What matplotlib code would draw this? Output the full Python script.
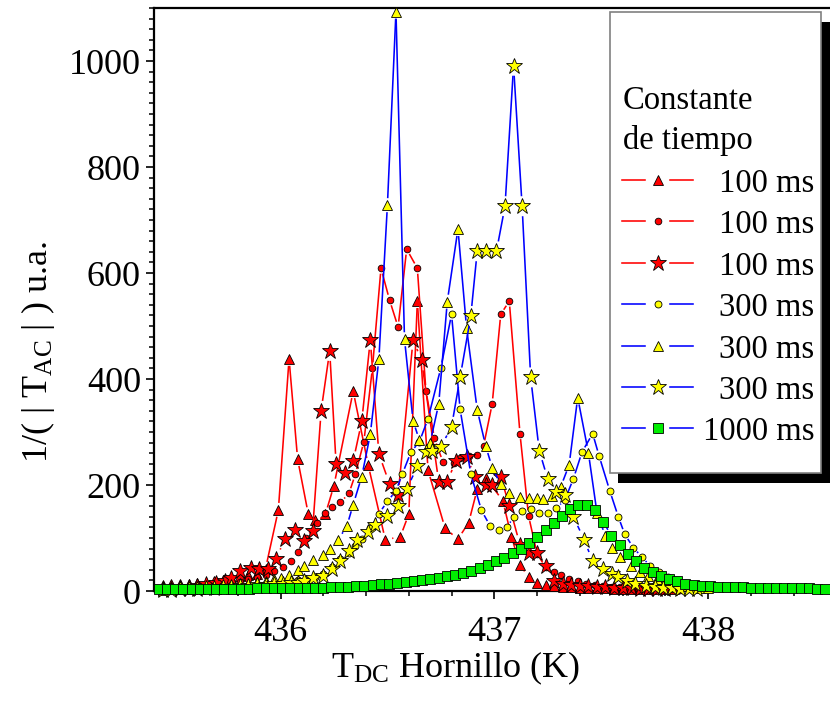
import numpy as np
import matplotlib
matplotlib.use('Agg')
import matplotlib.pyplot as plt
from matplotlib.collections import LineCollection
from matplotlib.lines import Line2D
from matplotlib.patches import Rectangle
from matplotlib.ticker import MultipleLocator

plt.rcParams['font.family'] = ['Liberation Serif', 'DejaVu Serif']
plt.rcParams['mathtext.fontset'] = 'custom'
plt.rcParams['mathtext.rm'] = 'Liberation Serif'
plt.rcParams['mathtext.it'] = 'Liberation Serif:italic'

# ---- datos (T en K, 1/|T_AC| en u.a.) ----
x_tri_100 = [435.45, 435.49, 435.53, 435.57, 435.61, 435.65, 435.69, 435.73, 435.77, 435.81,
             435.85, 435.89, 435.93, 435.99, 436.04, 436.08, 436.13, 436.16, 436.21, 436.25,
             436.34, 436.41, 436.49, 436.56, 436.60, 436.64, 436.69, 436.77, 436.83, 436.88,
             436.92, 436.96, 437.04, 437.08, 437.12, 437.16, 437.20, 437.24, 437.28, 437.32,
             437.36, 437.40, 437.44, 437.48, 437.52, 437.56, 437.60, 437.64, 437.68, 437.72,
             437.76, 437.80, 437.84]
y_tri_100 = [12, 13, 13, 14, 15, 16, 18, 20, 24, 28,
             30, 33, 42, 153, 438, 249, 145, 134, 145, 199,
             377, 238, 97, 102, 145, 547, 228, 118, 98, 129,
             192, 214, 170, 102, 50, 26, 16, 12, 10, 8,
             7, 6, 6, 5, 5, 4, 4, 4, 3, 3,
             3, 3, 3]

x_cir_100 = [435.45, 435.49, 435.53, 435.57, 435.61, 435.65, 435.69, 435.73, 435.77, 435.81,
             435.85, 435.89, 435.93, 435.97, 436.01, 436.05, 436.08, 436.12, 436.17, 436.21,
             436.24, 436.28, 436.32, 436.35, 436.39, 436.43, 436.47, 436.51, 436.55, 436.59,
             436.64, 436.68, 436.72, 436.76, 436.81, 436.84, 436.88, 436.92, 436.95, 436.99,
             437.03, 437.07, 437.12, 437.16, 437.20, 437.24, 437.28, 437.31, 437.35, 437.39,
             437.43, 437.47, 437.51, 437.55, 437.59, 437.63, 437.67, 437.71, 437.75, 437.79,
             437.83, 437.87]
y_cir_100 = [2, 3, 3, 4, 5, 6, 8, 10, 13, 17,
             22, 27, 31, 37, 45, 56, 73, 100, 129, 147,
             158, 167, 184, 220, 282, 421, 609, 549, 498, 645,
             609, 378, 288, 243, 242, 251, 254, 256, 274, 353,
             522, 547, 297, 142, 70, 45, 35, 31, 23, 18,
             14, 11, 9, 8, 7, 6, 5, 4, 4, 3,
             3, 2]

x_sta_100 = [435.45, 435.49, 435.53, 435.57, 435.61, 435.65, 435.70, 435.74, 435.77, 435.81,
             435.86, 435.90, 435.94, 435.98, 436.02, 436.07, 436.11, 436.15, 436.19, 436.23,
             436.26, 436.30, 436.34, 436.38, 436.42, 436.46, 436.51, 436.55, 436.62, 436.66,
             436.74, 436.78, 436.82, 436.87, 436.91, 436.96, 436.99, 437.03, 437.07, 437.12,
             437.16, 437.20, 437.24, 437.28, 437.32, 437.36, 437.40, 437.44, 437.48, 437.52,
             437.56, 437.60, 437.64, 437.68, 437.72, 437.76, 437.80]
y_sta_100 = [3, 4, 6, 8, 10, 13, 16, 19, 24, 37,
             43, 42, 42, 61, 98, 116, 95, 114, 340, 453,
             240, 222, 245, 320, 474, 259, 202, 181, 474, 435,
             206, 206, 246, 253, 216, 200, 200, 216, 161, 87,
             71, 71, 47, 18, 14, 12, 10, 9, 8, 7,
             6, 5, 5, 4, 4, 3, 3]

x_cir_300 = [435.45, 435.49, 435.53, 435.57, 435.61, 435.65, 435.69, 435.73, 435.77, 435.81,
             435.85, 435.89, 435.93, 435.97, 436.01, 436.05, 436.08, 436.12, 436.16, 436.20,
             436.24, 436.28, 436.32, 436.35, 436.38, 436.42, 436.46, 436.50, 436.54, 436.57,
             436.61, 436.65, 436.69, 436.75, 436.80, 436.84, 436.89, 436.94, 436.98, 437.02,
             437.06, 437.09, 437.13, 437.17, 437.21, 437.25, 437.29, 437.33, 437.37, 437.41,
             437.46, 437.49, 437.54, 437.58, 437.61, 437.65, 437.69, 437.73, 437.77, 437.81,
             437.85, 437.89, 437.93, 437.97, 438.01, 438.05]
y_cir_300 = [2, 2, 3, 3, 4, 5, 6, 7, 8, 9,
             10, 12, 14, 15, 17, 19, 20, 21, 27, 33,
             46, 60, 72, 85, 99, 118, 146, 169, 189, 221,
             262, 282, 325, 421, 522, 343, 221, 152, 123, 116,
             120, 140, 151, 155, 148, 148, 156, 172, 212, 262,
             297, 255, 189, 140, 107, 82, 64, 47, 35, 27,
             20, 15, 12, 9, 7, 5]

x_tri_300 = [435.45, 435.49, 435.53, 435.57, 435.61, 435.65, 435.69, 435.73, 435.77, 435.81,
             435.85, 435.89, 435.93, 435.97, 436.00, 436.04, 436.08, 436.11, 436.15, 436.20,
             436.23, 436.27, 436.31, 436.34, 436.38, 436.42, 436.46, 436.50, 436.54, 436.58,
             436.62, 436.65, 436.70, 436.74, 436.78, 436.83, 436.87, 436.92, 436.96, 436.99,
             437.03, 437.07, 437.12, 437.16, 437.20, 437.23, 437.27, 437.31, 437.35, 437.39,
             437.44, 437.48, 437.52, 437.55, 437.59, 437.64, 437.68, 437.72, 437.76, 437.80,
             437.84, 437.88, 437.92, 437.96, 438.00]
y_tri_300 = [2, 3, 3, 4, 5, 6, 7, 9, 10, 12,
             14, 17, 19, 22, 25, 30, 40, 47, 58, 68,
             79, 97, 122, 163, 216, 296, 437, 728, 1093, 475,
             321, 284, 280, 353, 546, 683, 497, 342, 273, 233,
             201, 185, 178, 176, 175, 174, 180, 196, 238, 365,
             261, 148, 103, 82, 64, 47, 36, 28, 22, 17,
             13, 10, 8, 6, 5]

x_sta_300 = [435.45, 435.49, 435.53, 435.57, 435.61, 435.65, 435.69, 435.73, 435.77, 435.81,
             435.85, 435.89, 435.93, 435.97, 436.01, 436.05, 436.08, 436.11, 436.15, 436.20,
             436.24, 436.28, 436.32, 436.36, 436.41, 436.44, 436.50, 436.55, 436.59, 436.64,
             436.68, 436.71, 436.75, 436.80, 436.84, 436.89, 436.92, 436.96, 437.01, 437.05,
             437.09, 437.13, 437.17, 437.21, 437.25, 437.29, 437.33, 437.37, 437.42, 437.46,
             437.51, 437.55, 437.58, 437.62, 437.66, 437.71, 437.75, 437.79, 437.83, 437.87,
             437.91, 437.95]
y_sta_300 = [2, 2, 3, 3, 4, 5, 6, 7, 8, 9,
             10, 11, 12, 13, 14, 15, 16, 18, 24, 28,
             42, 56, 75, 97, 112, 124, 141, 160, 192, 235,
             263, 265, 272, 310, 403, 519, 641, 641, 641, 726,
             991, 726, 403, 265, 211, 186, 182, 140, 97, 56,
             41, 32, 26, 19, 13, 9, 7, 6, 5, 4,
             3, 3]

# 1000 ms: puntos equiespaciados en T
x0_sq_1000, dx_sq_1000 = 435.43, 0.0385
y_sq_1000 = [3, 3, 3, 3, 3, 4, 4, 4, 4, 4,
             4, 4, 5, 5, 5, 5, 5, 6, 6, 6,
             6, 7, 7, 8, 9, 10, 11, 13, 13, 15,
             17, 19, 21, 23, 25, 28, 31, 34, 38, 44,
             50, 56, 63, 72, 80, 90, 102, 115, 128, 142,
             155, 163, 163, 152, 131, 104, 87, 70, 56, 44,
             35, 28, 23, 19, 14, 12, 10, 9, 8, 8,
             7, 7, 6, 6, 6, 5, 5, 5, 5, 5,
             4, 4]
x_sq_1000 = x0_sq_1000 + dx_sq_1000 * np.arange(len(y_sq_1000))

labels = ['100 ms', '100 ms', '100 ms', '300 ms', '300 ms', '300 ms', '1000 ms']
legend_title = ['Constante', 'de tiempo']

series = [
    (x_tri_100, y_tri_100, dict(color='#ff0000', marker='^', ms=7.3, mfc='#ff0000'), 7),
    (x_cir_100, y_cir_100, dict(color='#ff0000', marker='o', ms=4.8, mfc='#ff0000'), 5.5),
    (x_sta_100, y_sta_100, dict(color='#ff0000', marker='*', ms=11.8, mfc='#ff0000'), 10),
    (x_cir_300, y_cir_300, dict(color='#0000ff', marker='o', ms=5.0, mfc='#ffff00'), 5.5),
    (x_tri_300, y_tri_300, dict(color='#0000ff', marker='^', ms=6.8, mfc='#ffff00'), 7),
    (x_sta_300, y_sta_300, dict(color='#0000ff', marker='*', ms=12.2, mfc='#ffff00'), 10),
    (x_sq_1000, y_sq_1000, dict(color='#0000ff', marker='s', ms=7.0, mfc='#00ee00'), 7),
]

W, H = 830, 703
fig = plt.figure(figsize=(W / 100, H / 100), dpi=100)
ax = fig.add_axes([153.5 / W, 1 - 591 / H, (W - 153.5) / W, (591 - 8) / H])
ax.set_xlim(435.406, 438.57)
ax.set_ylim(0, 1100)


def gapped_line(ax, x, y, gap, color, lw, z):
    # lineas al estilo Origin: se cortan alrededor de cada simbolo
    pts = ax.transData.transform(np.column_stack([x, y]))
    inv = ax.transData.inverted()
    segs = []
    for p0, p1 in zip(pts[:-1], pts[1:]):
        d = p1 - p0
        L = np.hypot(d[0], d[1])
        if L <= 2 * gap + 1:
            continue
        u = d / L
        segs.append(inv.transform(np.array([p0 + u * gap, p1 - u * gap])))
    ax.add_collection(LineCollection(segs, colors=color, linewidths=lw, zorder=z))


for k, (xs, ys, st, gap) in enumerate(series):
    gapped_line(ax, xs, ys, gap, st['color'], 1.15, 2 + 2 * k)
    ax.plot(xs, ys, ls='none', marker=st['marker'], ms=st['ms'], mfc=st['mfc'],
            mec='k', mew=0.6, zorder=3 + 2 * k, clip_on=False)

for s in ['right']:
    ax.spines[s].set_visible(False)
for s in ['left', 'bottom', 'top']:
    ax.spines[s].set_linewidth(1.6)

ax.xaxis.set_major_locator(MultipleLocator(1))
ax.xaxis.set_minor_locator(MultipleLocator(0.2))
ax.yaxis.set_major_locator(MultipleLocator(200))
ax.yaxis.set_minor_locator(MultipleLocator(20))
ax.tick_params(which='major', direction='out', length=6, width=1.2, labelsize=26)
ax.tick_params(which='minor', direction='out', length=3.5, width=1.1)
ax.tick_params(axis='x', which='major', pad=12)
ax.tick_params(axis='y', which='major', pad=3)
ax.tick_params(top=False, right=False)

fig.text(456 / W, 1 - 668 / H, r'T$_{\mathrm{DC}}$ Hornillo (K)', ha='center', va='center', fontsize=26)
fig.text(38 / W, 1 - 352 / H, r'1/( | T$_{\mathrm{AC}}$ | ) u.a.', ha='center', va='center',
         rotation=90, fontsize=26)


# ---- leyenda dibujada a mano (caja con sombra negra) ----
def fx(px):
    return px / W


def fy(py):
    return 1 - py / H


fig.add_artist(Rectangle((fx(618), fy(483)), fx(840) - fx(618), fy(22) - fy(483),
                         transform=fig.transFigure, facecolor='k', edgecolor='none', zorder=20))
fig.add_artist(Rectangle((fx(610), fy(473)), fx(821) - fx(610), fy(12) - fy(473),
                         transform=fig.transFigure, facecolor='white', edgecolor='#808080',
                         lw=1.2, zorder=21))
fig.text(fx(623), fy(109), legend_title[0], fontsize=23.5, ha='left', va='baseline', zorder=22)
fig.text(fx(623), fy(149), legend_title[1], fontsize=23.5, ha='left', va='baseline', zorder=22)

for i, (lab, (xs, ys, st, gap)) in enumerate(zip(labels, series)):
    yc = 180 + 41.4 * i
    for xa, xb in [(622, 645), (670, 693)]:
        fig.add_artist(Line2D([fx(xa), fx(xb)], [fy(yc), fy(yc)], transform=fig.transFigure,
                              color=st['color'], lw=1.15, zorder=22))
    fig.add_artist(Line2D([fx(658)], [fy(yc)], transform=fig.transFigure, ls='none',
                          marker=st['marker'], ms=st['ms'], mfc=st['mfc'], mec='k', mew=0.6,
                          zorder=23))
    fig.text(fx(814), fy(yc + 12), lab, fontsize=23.5, ha='right', va='baseline', zorder=22)

fig.savefig('out.png', dpi=100)
